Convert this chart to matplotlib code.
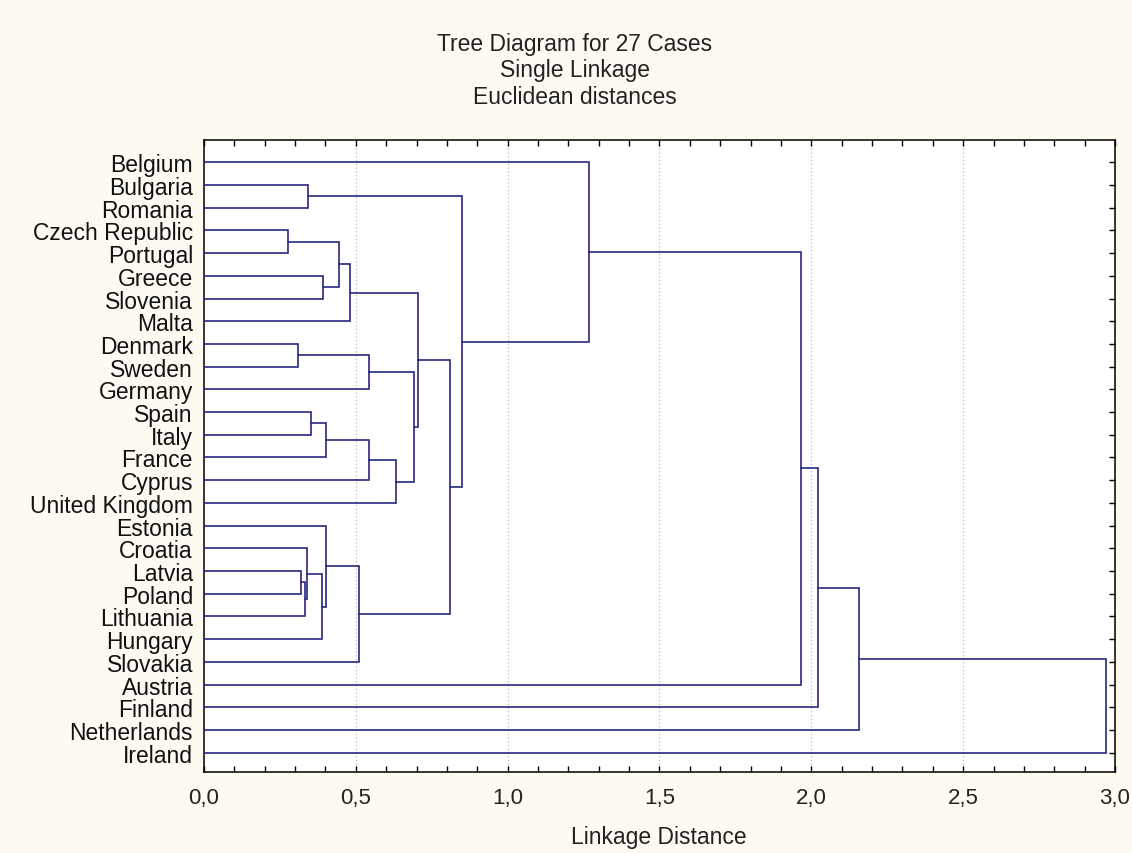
import matplotlib
matplotlib.use("Agg")
import matplotlib.pyplot as plt
from matplotlib.ticker import MultipleLocator, FuncFormatter

plt.rcParams['font.family'] = ['Liberation Sans', 'DejaVu Sans']

# Leaves in display order (top to bottom)
labels = ["Belgium", "Bulgaria", "Romania", "Czech Republic", "Portugal",
          "Greece", "Slovenia", "Malta", "Denmark", "Sweden", "Germany",
          "Spain", "Italy", "France", "Cyprus", "United Kingdom", "Estonia",
          "Croatia", "Latvia", "Poland", "Lithuania", "Hungary", "Slovakia",
          "Austria", "Finland", "Netherlands", "Ireland"]

# Merges: cluster ids 0..26 are leaves, 27+k is the k-th merge
merge_left = [3, 8, 18, 29, 17, 1, 11, 31, 5, 16, 33, 27, 38, 36, 28, 37,
              42, 41, 39, 45, 32, 0, 48, 49, 50, 51]
merge_right = [4, 9, 19, 20, 30, 2, 12, 21, 6, 34, 13, 35, 7, 22, 10, 14,
               15, 43, 44, 40, 46, 47, 23, 24, 25, 26]
merge_height = [0.275, 0.308, 0.319, 0.334, 0.339, 0.343, 0.354, 0.387,
                0.393, 0.401, 0.401, 0.445, 0.480, 0.509, 0.544, 0.544,
                0.632, 0.690, 0.705, 0.811, 0.851, 1.268, 1.966, 2.021,
                2.158, 2.969]

title_lines = ["Tree Diagram for 27 Cases", "Single Linkage", "Euclidean distances"]
x_label = "Linkage Distance"

line_color = "#27277f"
bg = "#fdfaf1"
fs = 16.5

fig = plt.figure(figsize=(11.32, 8.54), dpi=100, facecolor=bg)
ax = fig.add_axes([204 / 1132, 1 - 773 / 854, (1115 - 204) / 1132, (773 - 141) / 854])
ax.set_facecolor("white")

n = len(labels)
pos_y = {i: float(i) for i in range(n)}
pos_x = {i: 0.0 for i in range(n)}
for k, (a, b, h) in enumerate(zip(merge_left, merge_right, merge_height)):
    ya, yb = pos_y[a], pos_y[b]
    xa, xb = pos_x[a], pos_x[b]
    ax.plot([xa, h, h, xb], [ya, ya, yb, yb], color=line_color, lw=1.2,
            solid_joinstyle="miter", zorder=3)
    cid = n + k
    pos_y[cid] = (ya + yb) / 2
    pos_x[cid] = h

ax.set_xlim(0, 3.0)
ax.set_ylim(26.85, -0.98)

ax.set_yticks(range(n))
ax.set_yticklabels(labels, fontsize=fs, color="#111111")
ax.tick_params(axis="y", left=False, right=True, direction="in", length=4,
               width=1, pad=8)

ax.xaxis.set_major_locator(MultipleLocator(0.5))
ax.xaxis.set_minor_locator(MultipleLocator(0.1))
ax.xaxis.set_major_formatter(FuncFormatter(lambda v, p: f"{v:.1f}".replace(".", ",")))
ax.tick_params(axis="x", which="both", top=True, bottom=True, direction="in",
               length=4, width=1)
ax.tick_params(axis="x", which="major", labelsize=16, pad=11, labelcolor="#222222")

for g in [0.5, 1.0, 1.5, 2.0, 2.5]:
    ax.axvline(g, color="#b8b8b8", lw=0.9, ls=(0, (1, 2)), zorder=1)

for s in ax.spines.values():
    s.set_color("black")
    s.set_linewidth(1.1)

ys = [44, 70.5, 97]
for t, y in zip(title_lines, ys):
    fig.text(575 / 1132, 1 - y / 854, t, ha="center", va="center",
             fontsize=fs, color="#222222")

fig.text(659 / 1132, 1 - 838 / 854, x_label, ha="center", va="center",
         fontsize=fs, color="#222222")

fig.savefig("out.png", dpi=100, facecolor=bg)
